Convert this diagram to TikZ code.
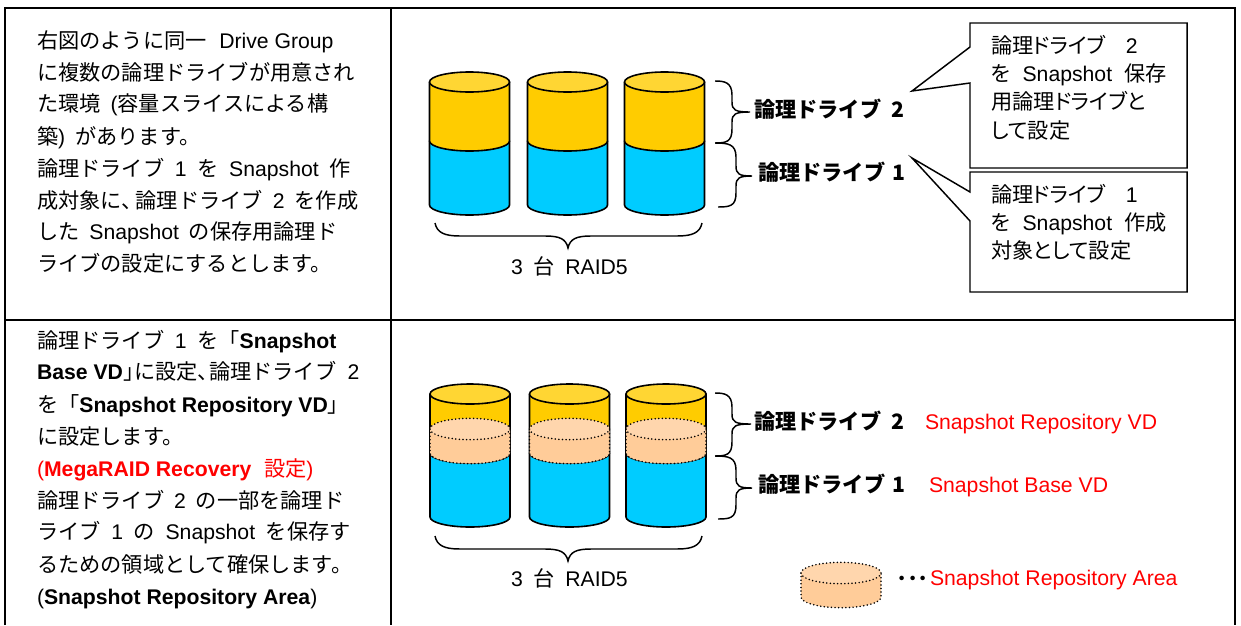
\documentclass[tikz,border=0pt]{standalone}
\usepackage{fontspec}
\setmainfont{Liberation Sans}
\newfontfamily\cjk{Noto Sans CJK JP}
\newfontfamily\cjkp[RawFeature=+palt]{Noto Sans CJK JP}
\newcommand{\J}[1]{{\cjk #1}}
\newcommand{\K}[1]{{\cjkp #1}}
\newcommand{\gp}{\hspace{7.5pt}}
\newcommand{\gr}{\hspace{8pt}}
\newcommand{\gq}{\hspace{9pt}}
\definecolor{yel}{HTML}{FFCC00}
\definecolor{yeltop}{HTML}{FFD633}
\definecolor{blu}{HTML}{00CCFF}
\definecolor{pea}{HTML}{FFCC99}
\definecolor{peatop}{HTML}{FFD6AD}
\tikzset{
  rule/.style={draw=black,line width=1.5pt},
  cylline/.style={draw=black,line width=1.2pt,line join=round},
  dotline/.style={draw=black,line width=1.3pt,line cap=round,dash pattern=on 0pt off 2.7pt},
  bracket/.style={draw=black,line width=1.1pt},
  callout/.style={draw=black,line width=1.1pt,fill=white,line join=miter},
  txt/.style={anchor=base west,inner sep=0pt,outer sep=0pt,font=\fontsize{15.9}{18}\selectfont,text=black},
  redtxt/.style={txt,text=red},
  lab/.style={txt,font=\fontsize{15.9}{18}\selectfont\bfseries}
}
% cx, top, boundary, bottom
\newcommand{\cylone}[4]{%
  \path[cylline,fill=blu] (#1-40,#3) -- (#1-40,#4) arc[start angle=180,end angle=360,x radius=30pt,y radius=7.5pt] -- (#1+40,#3) -- cycle;
  \path[cylline,fill=yel] (#1-40,#2) -- (#1-40,#3) arc[start angle=180,end angle=360,x radius=30pt,y radius=7.5pt] -- (#1+40,#2) -- cycle;
  \path[cylline,fill=yeltop] (#1,#2) ellipse[x radius=30pt,y radius=7.5pt];
}
% cx, top, body end
\newcommand{\peach}[3]{%
  \fill[pea] (#1-40,#2) -- (#1-40,#3) arc[start angle=180,end angle=360,x radius=30pt,y radius=8pt] -- (#1+40,#2) -- cycle;
  \path[dotline] (#1-40,#2) -- (#1-40,#3) arc[start angle=180,end angle=360,x radius=30pt,y radius=8pt] -- (#1+40,#2);
  \path[dotline,fill=peatop] (#1,#2) ellipse[x radius=30pt,y radius=8pt];
}
% xstart, ytop, spine, tipx, tipy, ybot, xend
\newcommand{\rbrc}[7]{%
  \draw[bracket] (#1,#2) .. controls (#3-8,#2) and (#3,#2+1) .. (#3,#2+14) -- (#3,#5-10)
    .. controls (#3,#5-2) and (#3+3,#5) .. (#4,#5)
    .. controls (#3+3,#5) and (#3,#5+2) .. (#3,#5+10) -- (#3,#6-14)
    .. controls (#3,#6-1) and (#3-6,#6) .. (#7,#6);
}
% yend, ylow, ytip
\newcommand{\bbrc}[3]{%
  \draw[bracket] (435,#1) .. controls (437,#2-3) and (445,#2) .. (460,#2) -- (545,#2)
    .. controls (560,#2) and (566,#2+3) .. (568,#3)
    .. controls (570,#2+3) and (576,#2) .. (591,#2) -- (677,#2)
    .. controls (692,#2) and (700,#2-3) .. (702,#1);
}
\begin{document}
\begin{tikzpicture}[x=0.75pt,y=-0.75pt]
\useasboundingbox (0,0) rectangle (1241,625);
% table rules
\draw[rule] (4.5,625) -- (4.5,8) -- (1235,8) -- (1235,625);
\draw[rule] (390.5,8) -- (390.5,625);
\draw[rule] (4.5,320) -- (1235,320);
% row 1 cylinders
\cylone{469.5}{82}{141}{205}
\cylone{567.5}{82}{141}{205}
\cylone{664.5}{82}{141}{205}
\rbrc{715}{81}{732}{750}{112}{143}{715}
\rbrc{715}{143}{736}{752}{176}{207}{718}
\bbrc{223}{236}{248}
% row 2 cylinders
\cylone{470}{394}{453}{517}
\cylone{569.5}{394}{453}{517}
\cylone{666}{394}{453}{517}
\peach{470}{429}{453}
\peach{569.5}{429}{453}
\peach{666}{429}{453}
\rbrc{715}{393}{732}{751}{424}{456}{715}
\rbrc{715}{456}{736}{752}{488}{519}{718}
\bbrc{536}{549}{561}
% legend drum
\peach{841}{573}{597}
% callouts
\draw[callout] (970,23) -- (1187,23) -- (1187,168) -- (970,168) -- (970,83) -- (912,91) -- (970,47) -- cycle;
\draw[callout] (970,172) -- (1187,172) -- (1187,292) -- (970,292) -- (970,221) -- (912,158) -- (970,192) -- cycle;
% left text row 1
\node[txt] (a1) at (37,48) {\J{右図のように同一}\hspace{9.5pt}Drive Group};
\node[txt] (a2) at (37,80) {\J{に複数の論理ドライブが用意され}};
\node[txt] (a3) at (37,111) {\J{た環境}\gp(\J{容量スライスによる構}};
\node[txt] (a4) at (37,144) {\J{築})\gp\J{があります。}};
\node[txt] (a5) at (37,176) {\J{論理ドライブ}\gr 1\gr\J{を}\gr Snapshot\gr\J{作}};
\node[txt] (a6) at (37,208) {\J{成対象に、}\hspace{-5pt}\J{論理ドライブ}\gp 2\gp\J{を作成}};
\node[txt] (a7) at (37,239) {\J{した}\gp Snapshot\gp\J{の保存用論理ド}};
\node[txt] (a8) at (37,271) {\J{ライブの設定にするとします。}};
% left text row 2
\node[txt] (b1) at (37,348) {\J{論理ドライブ}\gr 1\gr\J{を「}\textbf{Snapshot}};
\node[txt] (b2) at (37,379) {\textbf{Base VD}\J{」}\hspace{-7.5pt}\J{に設定、}\hspace{-7.5pt}\J{論理ドライブ}\hspace{8.5pt}2};
\node[txt] (b3) at (37,412) {\J{を「}\textbf{Snapshot Repository VD}\J{」}};
\node[txt] (b4) at (37,444) {\J{に設定します。}};
\node[redtxt] (b5) at (37,476) {(\textbf{MegaRAID Recovery}\hspace{9.5pt}\J{設定})};
\node[txt] (b6) at (37,508) {\J{論理ドライブ}\gp 2\gp\J{の一部を論理ド}};
\node[txt] (b7) at (37,539) {\J{ライブ}\gr 1\gr\J{の}\gr Snapshot\gr\J{を保存す}};
\node[txt] (b8) at (37,572) {\J{るための領域として確保します。}};
\node[txt] (b9) at (37,604) {(\textbf{Snapshot Repository Area})};
% drive labels
\node[lab] (l1) at (754,117) {\J{論理ドライブ}\gp\J{2}};
\node[lab] (l2) at (758,180) {\J{論理ドライブ}\hspace{5.5pt}\J{1}};
\node[lab] (l3) at (754,429) {\J{論理ドライブ}\gp\J{2}};
\node[lab] (l4) at (758,492) {\J{論理ドライブ}\hspace{5.5pt}\J{1}};
\node[txt] (r1) at (511,274) {3\gr\J{台}\gr RAID5};
\node[txt] (r2) at (511,586) {3\gr\J{台}\gr RAID5};
% callout text
\node[txt] (c1) at (991,53) {\K{論理ドライブ}\hspace{15pt}2};
\node[txt] (c2) at (991,81) {\K{を}\gq Snapshot\gq\K{保存}};
\node[txt] (c3) at (991,109) {\K{用論理ドライブと}};
\node[txt] (c4) at (991,138) {\K{して設定}};
\node[txt] (d1) at (991,202) {\K{論理ドライブ}\hspace{15pt}1};
\node[txt] (d2) at (991,230) {\K{を}\gq Snapshot\gq\K{作成}};
\node[txt] (d3) at (991,258) {\K{対象として設定}};
% red labels
\node[redtxt] (e1) at (925,429) {Snapshot Repository VD};
\node[redtxt] (e2) at (929,492) {Snapshot Base VD};
\node[txt] (f1) at (897,586.5) {\K{・・・}};
\node[redtxt] (f2) at (930,585) {Snapshot Repository Area};
\end{tikzpicture}
\end{document}
